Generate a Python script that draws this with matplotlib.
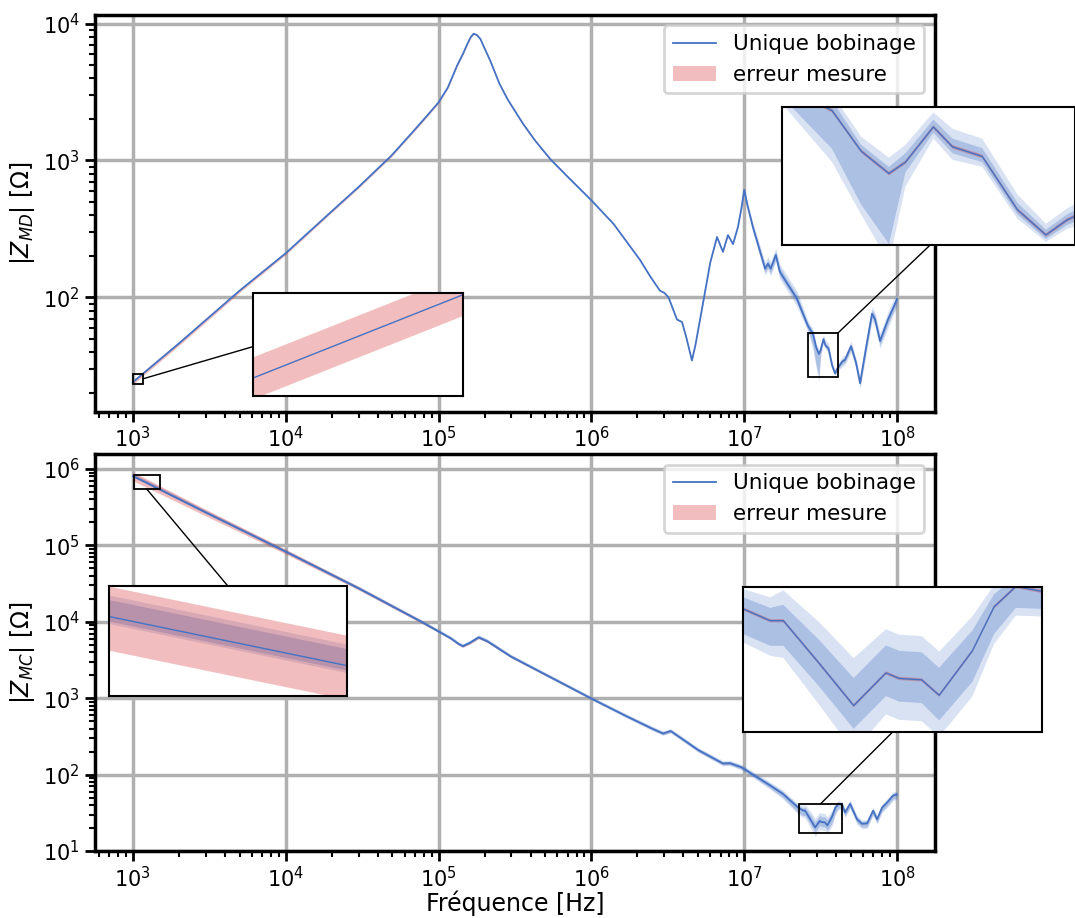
import numpy as np
import matplotlib.pyplot as plt
from matplotlib.patches import Rectangle, ConnectionPatch
from matplotlib.lines import Line2D
from matplotlib.patches import Patch

# ---- données |Z_MD| (mode différentiel) ----
f_md = [1e3, 2e3, 5e3, 1e4, 2e4, 3e4, 4.9e4, 6.9e4, 8.5e4,
        1e5, 1.15e5, 1.33e5, 1.45e5, 1.55e5, 1.63e5, 1.7e5, 1.78e5, 1.88e5, 2.0e5, 2.19e5, 2.5e5,
        2.83e5, 3.2e5, 3.6e5, 4.3e5, 5.4e5, 7e5,
        1e6, 1.4e6, 2.08e6, 2.45e6, 2.81e6, 3.0e6, 3.2e6, 3.63e6, 3.92e6, 4.2e6, 4.55e6, 4.8e6,
        5.37e6, 6.0e6, 6.64e6, 7.26e6, 7.83e6, 8.45e6, 9.1e6, 9.6e6,
        1.0e7, 1.05e7, 1.14e7, 1.37e7, 1.43e7, 1.49e7, 1.61e7, 1.71e7, 2.21e7, 2.61e7, 2.82e7,
        2.95e7, 3.08e7, 3.16e7, 3.30e7, 3.40e7,
        3.56e7, 3.76e7, 3.93e7, 4.06e7, 4.38e7, 4.57e7, 5.0e7, 5.4e7, 5.73e7, 6.2e7, 6.86e7,
        7.18e7, 7.74e7, 8.73e7, 1e8]
z_md = [24, 46, 112, 210, 425, 640, 1080, 1650, 2150,
        2650, 3400, 4990, 6050, 7150, 8000, 8430, 8250, 7710, 6600, 5290, 3650,
        2800, 2250, 1830, 1390, 1020, 760,
        512, 343, 188, 140, 112, 108, 100, 69, 66, 50, 34.6, 45,
        90, 180, 276, 215, 285, 245, 326, 450,
        610, 470, 326, 162, 176, 162, 204, 154, 98, 62, 54,
        43.5, 38.6, 41, 49.5, 44.5,
        42.3, 31.8, 27.8, 30.1, 34, 35, 44, 33, 23.6, 40, 76,
        69, 48, 69, 97]
err_md = [3.5, 3.5, 3, 2.5, 2, 2, 2, 2, 2,
          1.5, 1.5, 1.5, 1.5, 1.5, 1.5, 1.5, 1.5, 1.5, 1.5, 1.5, 1.5,
          1.5, 1.5, 1.5, 1.5, 1.5, 1.5,
          1, 1, 1, 1, 1, 1, 1, 1, 1, 1, 1, 1,
          1, 1, 1, 1, 1, 1, 1, 1,
          1, 1, 1, 1, 1, 1, 1, 1, 1, 1, 1,
          1, 1, 1, 1, 1,
          1, 1, 1, 1, 1, 1, 1, 1, 1, 1, 1,
          1, 1, 1, 1]
# dispersion (bandes bleues) à partir de 10 MHz
f_dsp_md = f_md[47:]
in_lo_md = [590, 455, 312, 152, 165, 150, 190, 143, 91, 58, 44,
            32.7, 26.5, 38.8, 48, 43,
            41, 31, 27.2, 29.3, 32.5, 33.5, 42, 31.5, 22.5, 37.5, 71,
            65, 45, 64, 90]
in_hi_md = [630, 485, 340, 172, 187, 173, 218, 165, 105, 65, 57,
            45, 40, 43, 51.5, 46.5,
            44.2, 33, 28.6, 31, 35.5, 36.5, 46, 34.5, 25, 43, 81,
            74, 51.5, 74, 103]
out_lo_md = [580, 445, 300, 145, 158, 143, 182, 136, 86, 56, 41,
             31, 24, 36, 46.5, 41.5,
             40, 30.3, 26.8, 28.7, 31, 32, 40, 30, 21.5, 35, 67,
             61, 42.5, 60, 86]
out_hi_md = [645, 500, 352, 182, 198, 183, 230, 175, 112, 68, 59,
             47, 42, 45, 53.5, 49,
             46.5, 34.5, 29.5, 32, 37, 38, 48, 36, 26.5, 45.5, 86,
             78, 55, 79, 110]

# ---- données |Z_MC| (mode commun) ----
f_mc = [1e3, 1.25e3, 1.5e3, 3e3, 1e4, 3e4, 7.6e4,
        1e5, 1.2e5, 1.35e5, 1.44e5, 1.6e5, 1.83e5, 2.09e5, 2.97e5,
        1e6, 1.7e6, 2.5e6, 2.94e6, 3.3e6, 3.86e6, 5e6, 7.26e6, 8.07e6, 9.66e6,
        1.09e7, 1.48e7, 1.79e7, 2.25e7, 2.43e7, 2.50e7, 2.70e7, 2.91e7, 3.12e7, 3.21e7,
        3.37e7, 3.50e7, 3.76e7, 3.94e7, 4.13e7, 4.37e7,
        4.57e7, 4.93e7, 5.47e7, 5.9e7, 6.37e7, 6.97e7, 7.4e7, 7.98e7, 8.6e7, 9.4e7, 1e8]
z_mc = [8.1e5, 6.5e5, 5.4e5, 2.7e5, 8.3e4, 2.75e4, 1.02e4,
        7500, 6100, 5150, 4800, 5300, 6260, 5550, 3520,
        990, 580, 400, 346, 372, 300, 210, 140, 141, 124,
        106, 72, 56, 37.1, 33.8, 33.8, 26.2, 20.3, 24.7, 23.9,
        23.7, 21.6, 28.2, 36.7, 41.5, 40.3,
        32, 41.5, 26, 22.7, 23, 33.6, 26, 37, 43, 53, 55]
err_mc = [13, 13, 12, 10, 7, 5, 4,
          3, 3, 3, 3, 3, 3, 3, 3,
          2, 1.5, 1.5, 1.5, 1.5, 1.5, 1.5, 1.5, 1.5, 1.5,
          1, 1, 1, 1, 1, 1, 1, 1, 1, 1,
          1, 1, 1, 1, 1, 1,
          1, 1, 1, 1, 1, 1, 1, 1, 1, 1, 1]
# dispersion en % sous / au-dessus de la courbe
in_lo_mc = [2, 2, 2, 2, 3, 3, 3,
            3, 3, 3, 3, 3, 3, 3, 3,
            3, 3, 4, 4, 4, 4, 5, 5, 5, 6,
            6, 8, 10, 14, 14, 14, 13, 13, 13, 13,
            13, 14, 17, 15, 12, 10,
            10, 10, 10, 10, 10, 10, 10, 10, 10, 10, 10]
in_hi_mc = [7, 7, 7, 6, 5, 5, 5,
            5, 5, 5, 6, 6, 6, 6, 5,
            5, 5, 5, 5, 5, 5, 5, 5, 6, 6,
            6, 7, 7, 7, 8, 10, 15, 18, 18, 18,
            18, 18, 13, 8, 6, 6,
            7, 7, 8, 8, 8, 8, 8, 8, 8, 8, 8]
out_lo_mc = [3, 3, 3, 3, 4, 4, 4,
             4, 4, 4, 4, 4, 4, 4, 4,
             4, 5, 6, 6, 6, 6, 7, 7, 7, 8,
             8, 11, 14, 18, 19, 20, 22, 24, 22, 22,
             22, 22, 24, 20, 16, 14,
             14, 14, 14, 14, 14, 14, 14, 14, 14, 14, 14]
out_hi_mc = [9, 9, 9, 8, 7, 7, 7,
             7, 7, 8, 8, 8, 8, 8, 7,
             7, 7, 8, 8, 8, 8, 8, 9, 9, 9,
             10, 11, 12, 12, 15, 20, 28, 33, 30, 30,
             30, 30, 23, 14, 10, 10,
             12, 12, 12, 12, 12, 12, 12, 12, 12, 12, 12]

BLEU = '#4472C4'
ROUGE = '#d62728'


def tracer(ax, f, z, err, fb, b_in, b_out, lw=1.3):
    z = np.array(z)
    err = np.array(err) / 100
    ax.fill_between(fb, b_out[0], b_out[1], color=BLEU, alpha=0.2, lw=0)
    ax.fill_between(fb, b_in[0], b_in[1], color=BLEU, alpha=0.3, lw=0)
    ax.fill_between(f, z * (1 - err), z * (1 + err), color=ROUGE, alpha=0.3, lw=0)
    ax.plot(f, z, color=BLEU, lw=lw)


def zoom(fig, ax, args, bounds, xlim, ylim, box, pA, pB):
    axi = ax.inset_axes(bounds)
    axi.set_xscale('log')
    axi.set_yscale('log')
    tracer(axi, *args, lw=1.0)
    axi.set_xlim(xlim)
    axi.set_ylim(ylim)
    axi.tick_params(which='both', left=False, bottom=False,
                    labelleft=False, labelbottom=False)
    for s in axi.spines.values():
        s.set_linewidth(1.5)
    (x0, x1), (y0, y1) = box
    ax.add_patch(Rectangle((x0, y0), x1 - x0, y1 - y0, fill=False,
                           ec='k', lw=1.3, zorder=5))
    # point d'accroche sur le rectangle (fractions)
    xa = 10 ** (np.log10(x0) + pA[0] * (np.log10(x1) - np.log10(x0)))
    ya = 10 ** (np.log10(y0) + pA[1] * (np.log10(y1) - np.log10(y0)))
    con = ConnectionPatch(xyA=(xa, ya), coordsA=ax.transData,
                          xyB=pB, coordsB=axi.transAxes, color='k', lw=1)
    fig.add_artist(con)


fig, (ax1, ax2) = plt.subplots(2, 1, figsize=(10.75, 9.18), dpi=100)
fig.subplots_adjust(left=0.088, right=0.870, top=0.984, bottom=0.073, hspace=0.106)

md_args = (f_md, z_md, err_md, f_dsp_md, (in_lo_md, in_hi_md), (out_lo_md, out_hi_md))
zmc = np.array(z_mc)
mc_args = (f_mc, z_mc, err_mc, f_mc,
           (zmc * (1 - np.array(in_lo_mc) / 100), zmc * (1 + np.array(in_hi_mc) / 100)),
           (zmc * (1 - np.array(out_lo_mc) / 100), zmc * (1 + np.array(out_hi_mc) / 100)))

for ax, args in ((ax1, md_args), (ax2, mc_args)):
    ax.set_xscale('log')
    ax.set_yscale('log')
    tracer(ax, *args)
    ax.set_xlim(10 ** 2.75, 10 ** 8.25)
    ax.grid(True, which='major', color='#b0b0b0', lw=2.5)
    ax.set_axisbelow(True)
    ax.tick_params(which='major', length=7, width=2, labelsize=15)
    ax.tick_params(which='minor', length=4, width=1.5)
    for s in ax.spines.values():
        s.set_linewidth(2.5)
    handles = [Line2D([], [], color=BLEU, lw=1.3),
               Patch(color=ROUGE, alpha=0.3, lw=0)]
    leg = ax.legend(handles, ['Unique bobinage', 'erreur mesure'],
                    loc='upper right', fontsize=15.5)
    leg.get_frame().set_linewidth(2)

ax1.set_ylim(14.6, 11600)
ax2.set_ylim(10, 1.58e6)
ax1.set_ylabel('$|Z_{MD}|$ [Ω]', fontsize=17)
ax2.set_ylabel('$|Z_{MC}|$ [Ω]', fontsize=17)
ax2.set_xlabel('Fréquence [Hz]', fontsize=17, labelpad=0)

# zooms
zoom(fig, ax1, md_args, [0.188, 0.040, 0.25, 0.258],
     (1000, 1160), (23.3, 27.65), ((1000, 1160), (23.3, 27.65)), (1, 0.5), (0, 0.48))
zoom(fig, ax1, md_args, [0.818, 0.421, 0.348, 0.346],
     (2.61e7, 4.11e7), (26.4, 55), ((2.61e7, 4.11e7), (26.4, 55)), (1, 1), (0.507, 0))
zoom(fig, ax2, mc_args, [0.0167, 0.390, 0.283, 0.278],
     (1016, 1245), (5.76e5, 9.04e5), ((1016, 1503), (5.45e5, 8.34e5)), (0.5, 0), (0.5, 1))
zoom(fig, ax2, mc_args, [0.771, 0.299, 0.356, 0.367],
     (2.29e7, 4.37e7), (17.3, 41.5), ((2.29e7, 4.37e7), (17.3, 41.5)), (0.5, 1), (0.5, 0))

fig.savefig('out.png', dpi=100)
